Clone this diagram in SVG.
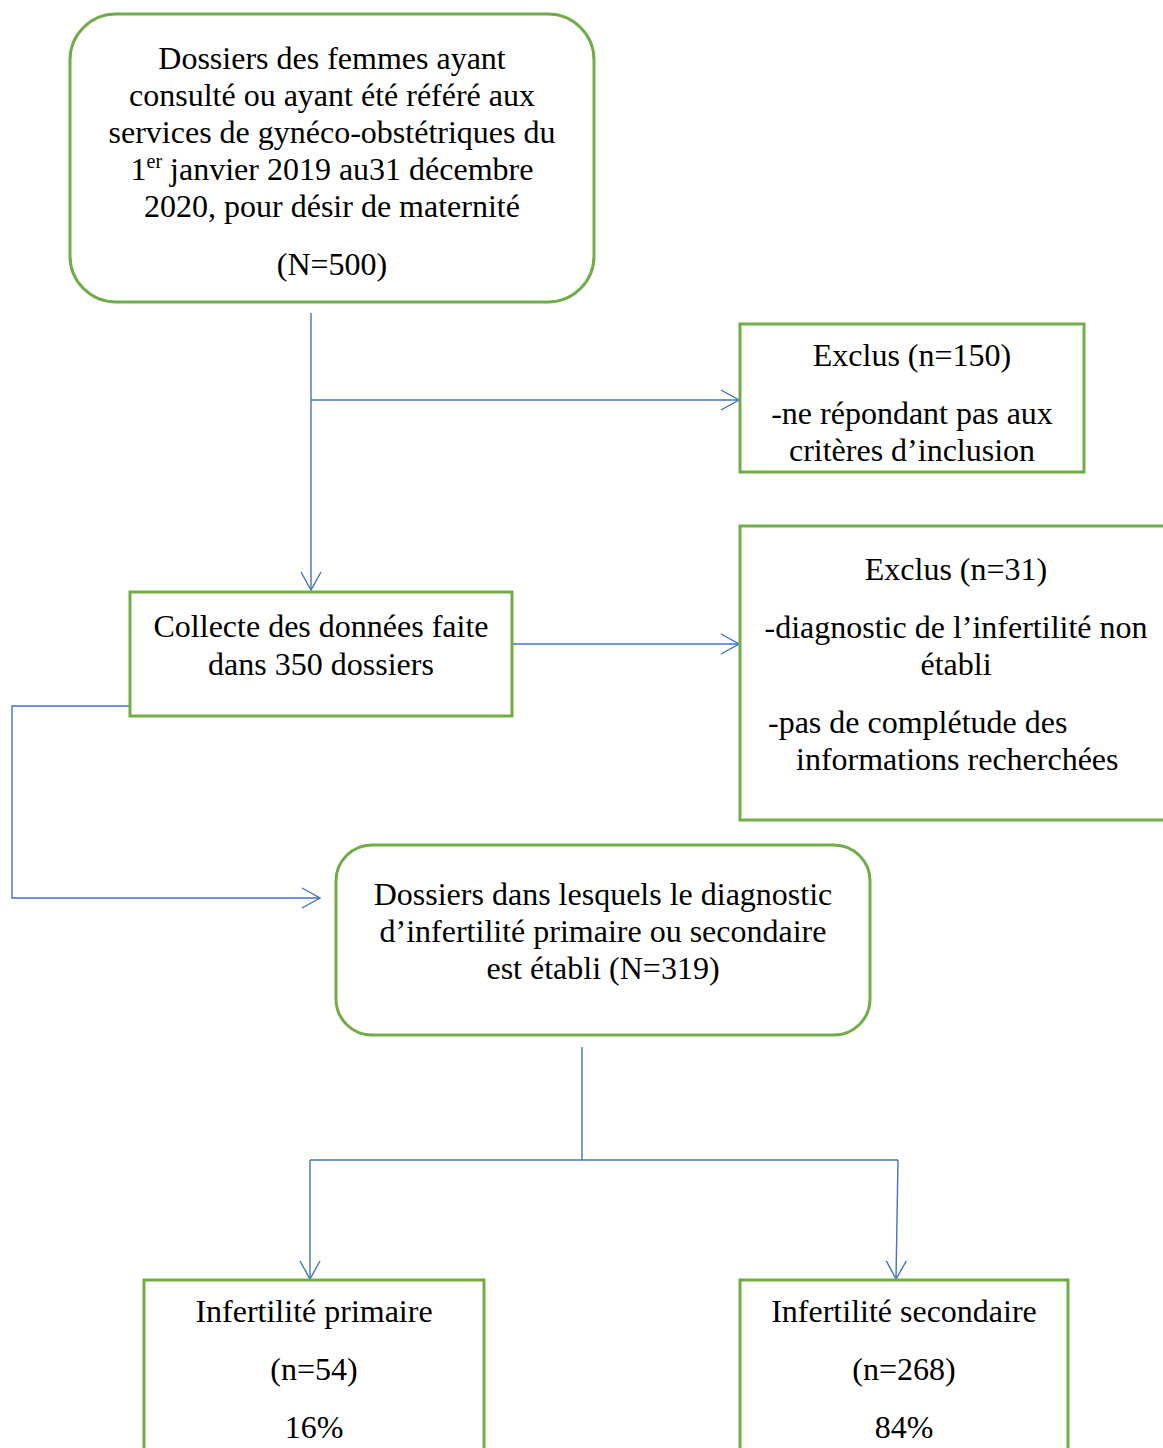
<svg xmlns="http://www.w3.org/2000/svg" width="1163" height="1448" viewBox="0 0 1163 1448">
<style>
.box{fill:#fff;stroke:#70AD47;stroke-width:3}
.t{font-family:"Liberation Serif","Times New Roman",serif;font-size:32px;fill:#000;text-anchor:middle}
.ts{font-family:"Liberation Serif","Times New Roman",serif;font-size:32px;fill:#000}
.c{fill:none;stroke:#4472C4;stroke-width:1.4}
</style>
<defs>
<marker id="ah" markerUnits="userSpaceOnUse" markerWidth="24" markerHeight="24" viewBox="-20 -12 24 24" refX="0" refY="0" orient="auto">
<path d="M-18,-10 L0,0 L-18,10" fill="none" stroke="#4472C4" stroke-width="1.4"/>
</marker>
</defs>
<rect width="1163" height="1448" fill="#fff"/>
<g id="connectors">
<path class="c" d="M311,313 V590" marker-end="url(#ah)"/>
<path class="c" d="M311,400 H739" marker-end="url(#ah)"/>
<path class="c" d="M512,644 H739" marker-end="url(#ah)"/>
<path class="c" d="M130,706 H12 V898 H320" marker-end="url(#ah)"/>
<path class="c" d="M582,1047 V1160"/>
<path class="c" d="M310,1160 H898"/>
<path class="c" d="M310,1160 V1279" marker-end="url(#ah)"/>
<path class="c" d="M898,1160 L896,1279" marker-end="url(#ah)"/>
</g>
<g id="n1">
<rect class="box" x="70" y="14" width="524" height="288" rx="46"/>
<text class="t" x="332" y="69">Dossiers des femmes ayant</text>
<text class="t" x="332" y="106">consulté ou ayant été référé aux</text>
<text class="t" x="332" y="143">services de gynéco-obstétriques du</text>
<text class="t" x="332" y="180">1<tspan font-size="20" dy="-12">er</tspan><tspan dy="12"> janvier 2019 au31 décembre</tspan></text>
<text class="t" x="332" y="217">2020, pour désir de maternité</text>
<text class="t" x="332" y="275">(N=500)</text>
</g>
<g id="n2">
<rect class="box" x="740" y="324" width="344" height="148"/>
<text class="t" x="912" y="366">Exclus (n=150)</text>
<text class="t" x="912" y="424">-ne répondant pas aux</text>
<text class="t" x="912" y="461">critères d’inclusion</text>
</g>
<g id="n3">
<rect class="box" x="130" y="592" width="382" height="124"/>
<text class="t" x="321" y="637">Collecte des données faite</text>
<text class="t" x="321" y="675">dans 350 dossiers</text>
</g>
<g id="n4">
<rect class="box" x="740" y="526" width="440" height="294"/>
<text class="t" x="956" y="580">Exclus (n=31)</text>
<text class="t" x="956" y="638">-diagnostic de l’infertilité non</text>
<text class="t" x="956" y="675">établi</text>
<text class="ts" x="768" y="733">-pas de complétude des</text>
<text class="ts" x="796" y="770">informations recherchées</text>
</g>
<g id="n5">
<rect class="box" x="336" y="845" width="534" height="190" rx="36"/>
<text class="t" x="603" y="905">Dossiers dans lesquels le diagnostic</text>
<text class="t" x="603" y="942">d’infertilité primaire ou secondaire</text>
<text class="t" x="603" y="979">est établi (N=319)</text>
</g>
<g id="n6">
<rect class="box" x="144" y="1280" width="340" height="190"/>
<text class="t" x="314" y="1322">Infertilité primaire</text>
<text class="t" x="314" y="1380">(n=54)</text>
<text class="t" x="314" y="1438">16%</text>
</g>
<g id="n7">
<rect class="box" x="740" y="1280" width="328" height="190"/>
<text class="t" x="904" y="1322">Infertilité secondaire</text>
<text class="t" x="904" y="1380">(n=268)</text>
<text class="t" x="904" y="1438">84%</text>
</g>
</svg>
